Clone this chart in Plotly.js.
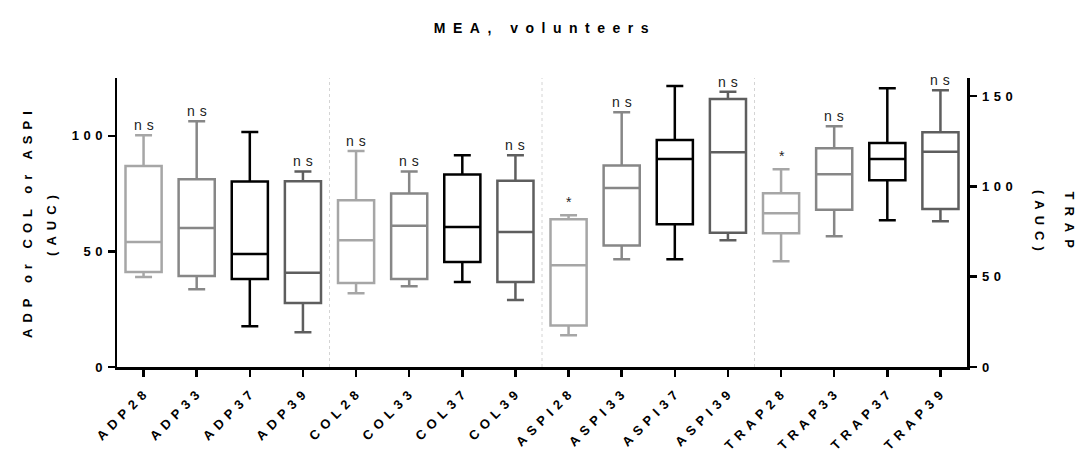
<!DOCTYPE html>
<html>
<head>
<meta charset="utf-8">
<script src="https://cdn.plot.ly/plotly-3.0.1.min.js"></script>
<style>
  html, body { margin: 0; padding: 0; background: #fff; }
  #chart { width: 1082px; height: 454px; }
  .gtitle { letter-spacing: 7.5px; }
  .xtick text { letter-spacing: 5.5px; }
  .ytick text, .y2tick text { letter-spacing: 4.5px; }
</style>
</head>
<body>
<div id="chart"></div>
<script>
// ---- data ----
const categories = ["ADP28","ADP33","ADP37","ADP39","COL28","COL33","COL37","COL39",
                    "ASPI28","ASPI33","ASPI37","ASPI39","TRAP28","TRAP33","TRAP37","TRAP39"];
const minVals    = [38.9, 33.6, 17.6, 15.0, 31.9, 34.9, 36.8, 29.0, 13.7, 46.6, 46.6, 54.8, 58.5, 72.4, 81.2, 80.7];
const q1Vals     = [41.1, 39.4, 38.1, 27.7, 36.3, 38.1, 45.4, 36.8, 18.0, 52.5, 61.7, 58.1, 74.0, 87.1, 103.4, 87.5];
const medianVals = [54.1, 60.1, 48.9, 40.8, 54.8, 61.1, 60.6, 58.4, 44.0, 77.4, 90.0, 92.9, 85.1, 106.7, 115.2, 119.2];
const q3Vals     = [86.9, 81.2, 80.2, 80.3, 72.1, 75.0, 83.3, 80.6, 63.9, 87.2, 98.2, 115.9, 96.2, 121.1, 124.0, 130.0];
const maxVals    = [100.2, 106.3, 101.6, 84.6, 93.4, 84.6, 91.6, 91.6, 65.6, 110.2, 121.5, 119.1, 109.5, 133.3, 154.3, 153.2];
const sigLabels  = ["ns","ns","","ns","ns","ns","","ns","*","ns","","ns","*","ns","","ns"];
const onRightAxis = [false,false,false,false,false,false,false,false,false,false,false,false,true,true,true,true];
const leftTicks  = [0, 50, 100];
const rightTicks = [0, 50, 100, 150];
const separators = [3.5, 7.5, 11.5];
const leftTitle  = ["ADP or COL or ASPI", "(AUC)"];
const rightTitle = ["(AUC)", "TRAP"];

// ---- style ----
const palette = ["#a6a6a6", "#878787", "#000000", "#5e5e5e"];
const FONT = "Liberation Sans, Arial, sans-serif";
const spaced = (t, px) => '<span style="letter-spacing:' + px + 'px">' + t + '</span>';

const traces = categories.map((c, i) => ({
  type: "box",
  x: [c],
  q1: [q1Vals[i]], median: [medianVals[i]], q3: [q3Vals[i]],
  lowerfence: [minVals[i]], upperfence: [maxVals[i]],
  boxpoints: false,
  width: 0.68,
  whiskerwidth: 0.47,
  fillcolor: "white",
  line: { color: palette[i % 4], width: 2.5 },
  yaxis: onRightAxis[i] ? "y2" : "y",
  showlegend: false,
  hoverinfo: "skip"
}));

const titleFont = { family: FONT, size: 13, weight: "bold", color: "#000" };
const annotations = [
  { text: spaced(leftTitle[0], 6), xref: "paper", yref: "paper", x: -0.1047, y: 0.502,
    xanchor: "center", yanchor: "middle", textangle: -90, showarrow: false, font: titleFont },
  { text: spaced(leftTitle[1], 6), xref: "paper", yref: "paper", x: -0.0765, y: 0.502,
    xanchor: "center", yanchor: "middle", textangle: -90, showarrow: false, font: titleFont },
  { text: spaced(rightTitle[0], 6), xref: "paper", yref: "paper", x: 1.0847, y: 0.495,
    xanchor: "center", yanchor: "middle", textangle: 90, showarrow: false, font: titleFont },
  { text: spaced(rightTitle[1], 7), xref: "paper", yref: "paper", x: 1.12, y: 0.50,
    xanchor: "center", yanchor: "middle", textangle: 90, showarrow: false, font: titleFont }
];
categories.forEach((c, i) => {
  if (!sigLabels[i]) return;
  const star = sigLabels[i] === "*";
  annotations.push({
    text: spaced(sigLabels[i], 5), x: c, y: maxVals[i],
    xref: "x", yref: onRightAxis[i] ? "y2" : "y",
    xanchor: "center", yanchor: "bottom", yshift: star ? 3 : 0, xshift: 2.5,
    showarrow: false,
    font: { family: FONT, size: 14, color: "#222" }
  });
});

const shapes = separators.map(s => ({
  type: "line", xref: "x", yref: "paper", x0: s, x1: s, y0: 0, y1: 1,
  line: { color: "#d4d4d4", width: 1, dash: "dot" }, layer: "below"
}));

const axisCommon = {
  showgrid: false, zeroline: false, showline: true, linecolor: "#000", linewidth: 2.5,
  ticks: "outside", ticklen: 7, tickwidth: 2.5, tickcolor: "#000",
  tickfont: { family: FONT, size: 13, weight: "bold", color: "#000" }
};

const layout = {
  width: 1082, height: 454,
  margin: { l: 117, r: 115, t: 78, b: 87 },
  paper_bgcolor: "#fff", plot_bgcolor: "#fff",
  title: {
    text: "MEA, volunteers",
    font: { family: FONT, size: 14, weight: "bold", color: "#000" },
    x: 0.5035, xanchor: "center", xref: "paper",
    y: 1 - 28 / 454, yanchor: "middle", yref: "container"
  },
  boxmode: "overlay",
  xaxis: Object.assign({}, axisCommon, {
    type: "category", categoryorder: "array", categoryarray: categories,
    range: [-0.5, 15.5], tickangle: -45, fixedrange: true,
    ticklabelstandoff: 2, ticklabelshift: 3
  }),
  yaxis: Object.assign({}, axisCommon, {
    range: [0, 125], tickmode: "array", tickvals: leftTicks, fixedrange: true,
    ticklabelstandoff: -2
  }),
  yaxis2: Object.assign({}, axisCommon, {
    overlaying: "y", side: "right", range: [0, 160],
    tickmode: "array", tickvals: rightTicks, ticklabelstandoff: 3, fixedrange: true
  }),
  annotations: annotations,
  shapes: shapes
};

Plotly.newPlot("chart", traces, layout, { displayModeBar: false, staticPlot: true });
</script>
</body>
</html>
